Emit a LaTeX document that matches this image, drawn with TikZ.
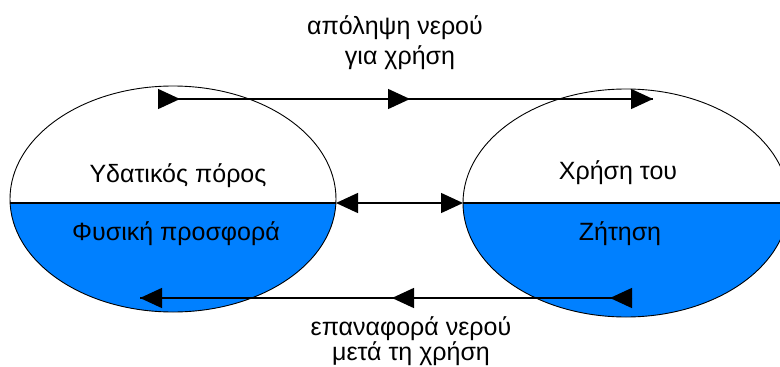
\documentclass[tikz,border=0pt]{standalone}
\usepackage{fontspec}
\setmainfont{Liberation Sans}
\usetikzlibrary{shapes.geometric,arrows.meta,decorations.markings}
\definecolor{waterblue}{HTML}{0080FF}
\tikzset{
  pool/.style={ellipse,minimum width=326pt,minimum height=226pt,inner sep=0pt,draw=none},
  tip/.style={-{Triangle[length=22pt,width=20pt]}},
  flowline/.style={line width=1.4pt,black},
  lbl/.style={font=\fontsize{25}{28}\selectfont,inner sep=0pt,align=center},
}
\begin{document}
\begin{tikzpicture}[x=1pt,y=-1pt]
\useasboundingbox (0,0) rectangle (780,367);
\clip (0,0) rectangle (780,367);
\fill[white] (0,0) rectangle (780,367);
% ellipses
\node[pool] (L) at (173,199) {};
\node[pool] (R) at (626,203) {};
\begin{scope}
  \clip (173,199) ellipse [x radius=163,y radius=113];
  \fill[waterblue] (0,203) rectangle (400,330);
\end{scope}
\begin{scope}
  \clip (626,203) ellipse [x radius=163,y radius=114];
  \fill[waterblue] (440,203) rectangle (800,330);
\end{scope}
\draw[line width=0.9pt] (173,199) ellipse [x radius=163,y radius=113];
\draw[line width=0.9pt] (626,203) ellipse [x radius=163,y radius=114];
\draw[line width=1.2pt] (L.west |- 0,203) -- (L.east |- 0,203);
\draw[line width=1.2pt] (R.west |- 0,203) -- (800,203);
% texts
\node[lbl] (t1) at (395,28) {απόληψη νερού};
\node[lbl] (t2) at (400,58) {για χρήση};
\node[lbl] (a1) at (178,176) {Υδατικός πόρος};
\node[lbl] (a2) at (176,234) {Φυσική προσφορά};
\node[lbl] (b1) at (618,173) {Χρήση του};
\node[lbl] (b2) at (620,234) {Ζήτηση};
\node[lbl] (t3) at (411,329) {επαναφορά νερού};
\node[lbl] (t4) at (411,354) {μετά τη χρήση};
% top flow
\coordinate (ts) at (158,99);
\coordinate (te) at (653,99);
\draw[flowline,postaction={decorate},decoration={markings,
   mark=at position 22pt with {\arrow{Triangle[length=22pt,width=20pt]}},
   mark=at position 252pt with {\arrow{Triangle[length=22pt,width=20pt]}}}]
   (ts) -- (te);
\draw[flowline,tip] (ts) -- (te);
% middle double arrow
\coordinate (ml) at (336,203);
\coordinate (mr) at (463,203);
\draw[flowline,{Triangle[length=22pt,width=20pt]}-{Triangle[length=22pt,width=20pt]}] (ml) -- (mr);
% bottom flow
\coordinate (bs) at (632,298);
\coordinate (be) at (140,298);
\draw[flowline,postaction={decorate},decoration={markings,
   mark=at position 22pt with {\arrow{Triangle[length=22pt,width=20pt]}},
   mark=at position 240pt with {\arrow{Triangle[length=22pt,width=20pt]}}}]
   (bs) -- (be);
\draw[flowline,tip] (bs) -- (be);
\end{tikzpicture}
\end{document}
